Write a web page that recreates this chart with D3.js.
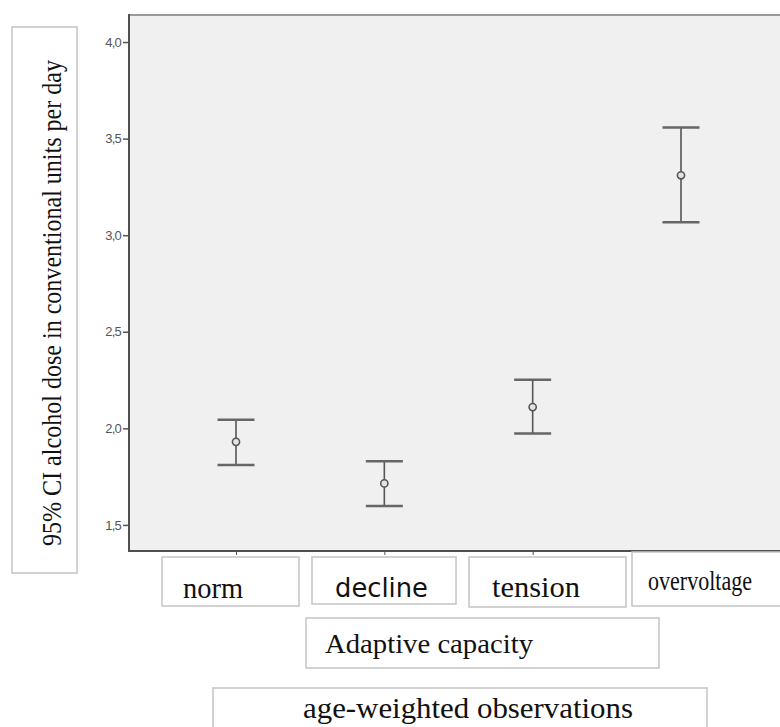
<!DOCTYPE html>
<html>
<head>
<meta charset="utf-8">
<script src="https://cdn.jsdelivr.net/npm/d3@7"></script>
<style>
  html, body { margin: 0; padding: 0; background: #fff; }
  svg { display: block; }
</style>
</head>
<body>
<div id="chart"></div>
<script>
// data
const categories = ['norm', 'decline', 'tension', 'overvoltage'];
const means = [1.93, 1.715, 2.11, 3.31];
const lower = [1.81, 1.598, 1.973, 3.067];
const upper = [2.045, 1.83, 2.252, 3.558];
const yTicks = [1.5, 2.0, 2.5, 3.0, 3.5, 4.0];

const yLabel = '95% CI alcohol dose in conventional units per day';
const xLabel = 'Adaptive capacity';
const subLabel = 'age-weighted observations';

const width = 780, height = 727;
const plot = { left: 129, right: 782, top: 15, bottom: 551 };
const serif = 'Liberation Serif, Times New Roman, serif';

const data = categories.map((c, i) => ({ cat: c, mean: means[i], lo: lower[i], hi: upper[i] }));

const svg = d3.select('#chart').append('svg')
    .attr('width', width)
    .attr('height', height)
    .attr('viewBox', [0, 0, width, height]);

const x = d3.scalePoint()
    .domain(categories)
    .range([236, 681]);

const y = d3.scaleLinear()
    .domain([1.365, 4.14])
    .range([plot.bottom, plot.top]);

const comma = d3.formatLocale({ decimal: ',', thousands: '.', grouping: [3], currency: ['', ''] }).format('.1f');

// plot background
svg.append('rect')
    .attr('x', plot.left).attr('y', plot.top)
    .attr('width', plot.right - plot.left).attr('height', plot.bottom - plot.top)
    .attr('fill', '#f0f0f0');

svg.append('line')
    .attr('x1', plot.left).attr('x2', plot.right)
    .attr('y1', plot.top).attr('y2', plot.top)
    .attr('stroke', '#9a9a9a').attr('stroke-width', 2);

// y axis
svg.append('g')
    .attr('transform', `translate(${plot.left},0)`)
    .call(d3.axisLeft(y).tickValues(yTicks).tickFormat(comma).tickSize(6).tickPadding(2))
    .call(g => g.select('.domain').remove())
    .call(g => g.selectAll('.tick line').attr('stroke', '#555').attr('stroke-width', 1.5))
    .call(g => g.selectAll('.tick text')
        .attr('fill', '#555')
        .attr('font-family', 'Liberation Sans, Arial, sans-serif')
        .attr('font-size', 13)
        .attr('letter-spacing', -0.8));

svg.append('line')
    .attr('x1', plot.left).attr('x2', plot.left)
    .attr('y1', plot.top - 1).attr('y2', plot.bottom)
    .attr('stroke', '#505050').attr('stroke-width', 2);

// x axis line with small ticks
svg.append('g')
    .attr('transform', `translate(0,${plot.bottom})`)
    .call(d3.axisBottom(x).tickSize(4).tickFormat(''))
    .call(g => g.select('.domain').remove())
    .call(g => g.selectAll('.tick line').attr('stroke', '#555'));

svg.append('line')
    .attr('x1', plot.left - 1).attr('x2', plot.right)
    .attr('y1', plot.bottom).attr('y2', plot.bottom)
    .attr('stroke', '#505050').attr('stroke-width', 2);

// error bars
const bars = svg.append('g').selectAll('g')
    .data(data)
    .join('g');

bars.append('line')
    .attr('x1', d => x(d.cat)).attr('x2', d => x(d.cat))
    .attr('y1', d => y(d.hi)).attr('y2', d => y(d.lo))
    .attr('stroke', '#555').attr('stroke-width', 1.6);

bars.selectAll('line.cap')
    .data(d => [{ cat: d.cat, v: d.hi }, { cat: d.cat, v: d.lo }])
    .join('line')
    .attr('class', 'cap')
    .attr('x1', d => x(d.cat) - 18.5).attr('x2', d => x(d.cat) + 18.5)
    .attr('y1', d => y(d.v)).attr('y2', d => y(d.v))
    .attr('stroke', '#666').attr('stroke-width', 2.5);

bars.append('circle')
    .attr('cx', d => x(d.cat))
    .attr('cy', d => y(d.mean))
    .attr('r', 3.6)
    .attr('fill', '#e4e4e4')
    .attr('stroke', '#555')
    .attr('stroke-width', 1.6);

// label boxes
const boxStroke = '#c4c4c4';
function box(x0, y0, w, h) {
    svg.append('rect')
        .attr('x', x0).attr('y', y0).attr('width', w).attr('height', h)
        .attr('fill', '#fff').attr('stroke', boxStroke).attr('stroke-width', 1.5);
}

function label(txt, x0, y0, tw, font, size) {
    return svg.append('text')
        .attr('x', x0).attr('y', y0)
        .attr('font-family', font)
        .attr('font-size', size)
        .attr('fill', '#111')
        .attr('textLength', tw)
        .attr('lengthAdjust', 'spacingAndGlyphs')
        .text(txt);
}

// y label
box(12, 27, 65, 546);
svg.append('text')
    .attr('transform', 'translate(61,303) rotate(-90)')
    .attr('text-anchor', 'middle')
    .attr('font-family', serif)
    .attr('font-size', 27)
    .attr('fill', '#111')
    .attr('textLength', 486)
    .attr('lengthAdjust', 'spacingAndGlyphs')
    .text(yLabel);

// category boxes
const catBoxes = [
    { x0: 162, y0: 557, w: 137, h: 49, tx: 183, ty: 598, tw: 60, font: serif, size: 29 },
    { x0: 312, y0: 557, w: 144, h: 47, tx: 335, ty: 597, tw: 93, font: 'DejaVu Sans, sans-serif', size: 26 },
    { x0: 469, y0: 557, w: 157, h: 50, tx: 492, ty: 597, tw: 88, font: serif, size: 30 },
    { x0: 632, y0: 552, w: 160, h: 54, tx: 648, ty: 590, tw: 104, font: serif, size: 28 }
];
categories.forEach((c, i) => {
    const b = catBoxes[i];
    box(b.x0, b.y0, b.w, b.h);
    label(c, b.tx, b.ty, b.tw, b.font, b.size);
});

// x axis title
box(306, 618, 353, 50);
label(xLabel, 325, 653, 208, serif, 27);

box(213, 688, 494, 50);
label(subLabel, 303, 718, 330, serif, 30);
</script>
</body>
</html>
